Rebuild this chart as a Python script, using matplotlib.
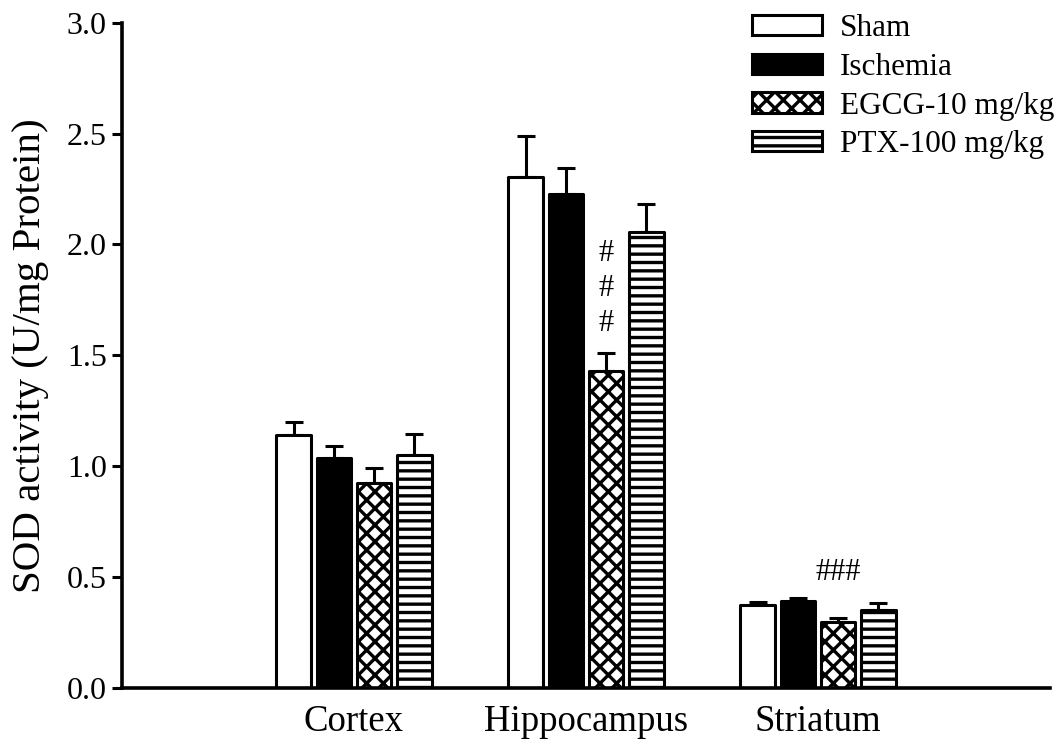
import numpy as np
import matplotlib
matplotlib.use("Agg")
import matplotlib.pyplot as plt
from matplotlib.patches import Patch

# Data: SOD activity (U/mg protein), mean and SEM per region and group
regions = ["Cortex", "Hippocampus", "Striatum"]
groups = ["Sham", "Ischemia", "EGCG-10 mg/kg", "PTX-100 mg/kg"]
means = {
    "Sham":          [1.14, 2.305, 0.374],
    "Ischemia":      [1.036, 2.227, 0.394],
    "EGCG-10 mg/kg": [0.923, 1.430, 0.299],
    "PTX-100 mg/kg": [1.050, 2.057, 0.352],
}
sems = {
    "Sham":          [0.058, 0.185, 0.015],
    "Ischemia":      [0.056, 0.116, 0.013],
    "EGCG-10 mg/kg": [0.067, 0.082, 0.018],
    "PTX-100 mg/kg": [0.095, 0.123, 0.030],
}
yticks = [0.0, 0.5, 1.0, 1.5, 2.0, 2.5, 3.0]

plt.rcParams["font.family"] = ["Liberation Serif", "DejaVu Serif"]
plt.rcParams["hatch.linewidth"] = 2.4
plt.rcParams["hatch.color"] = "black"

styles = {
    "Sham":          dict(facecolor="white", hatch=None),
    "Ischemia":      dict(facecolor="black", hatch=None),
    "EGCG-10 mg/kg": dict(facecolor="white", hatch="xx"),
    "PTX-100 mg/kg": dict(facecolor="white", hatch="--"),
}

fig = plt.figure(figsize=(10.62, 7.49), dpi=100)
ax = fig.add_axes([0.1149, 0.0814, 0.9887 - 0.1149, 0.9698 - 0.0814])

x = np.arange(1, len(regions) + 1)
width = 0.15
pitch = 0.173
offsets = (np.arange(len(groups)) - 1.5) * pitch

for g, off in zip(groups, offsets):
    st = styles[g]
    ax.bar(x + off, means[g], width, facecolor=st["facecolor"], hatch=st["hatch"],
           edgecolor="black", linewidth=2.2, joinstyle="round", zorder=2)
    err = np.array(sems[g])
    ax.errorbar(x + off, means[g], yerr=[np.zeros_like(err), err], fmt="none",
                ecolor="black", elinewidth=2.2, capsize=6.5, capthick=2.2, zorder=1)

# Significance marks over the EGCG bars
egcg_x = x + offsets[2]
for yy in (1.957, 1.80, 1.642):
    ax.text(egcg_x[1], yy, "#", ha="center", va="center", fontsize=22)
ax.text(egcg_x[2], 0.523, "###", ha="center", va="center", fontsize=22)

ax.set_xlim(0, 4)
ax.set_ylim(0, 3.0)
ax.set_xticks(x)
ax.set_xticklabels(regions, fontsize=26.5)
ax.set_yticks(yticks)
ax.set_yticklabels([f"{v:.1f}" for v in yticks], fontsize=23)
ax.tick_params(axis="x", length=0, pad=12)
ax.tick_params(axis="y", direction="out", length=7, width=2.2, pad=4)
ax.set_ylabel("SOD activity (U/mg Protein)", fontsize=29.5, labelpad=13)

for side in ("top", "right"):
    ax.spines[side].set_visible(False)
for side in ("left", "bottom"):
    ax.spines[side].set_linewidth(2.6)

handles = [Patch(facecolor=styles[g]["facecolor"], hatch=styles[g]["hatch"],
                 edgecolor="black", linewidth=2.2, joinstyle="round") for g in groups]
fig.legend(handles, groups, loc="upper right", bbox_to_anchor=(1.009, 1.004),
           frameon=False, fontsize=22.5, handlelength=2.25, handleheight=0.62,
           labelspacing=0.31, handletextpad=0.58, borderaxespad=0.15)

fig.savefig("out.png", dpi=100)
